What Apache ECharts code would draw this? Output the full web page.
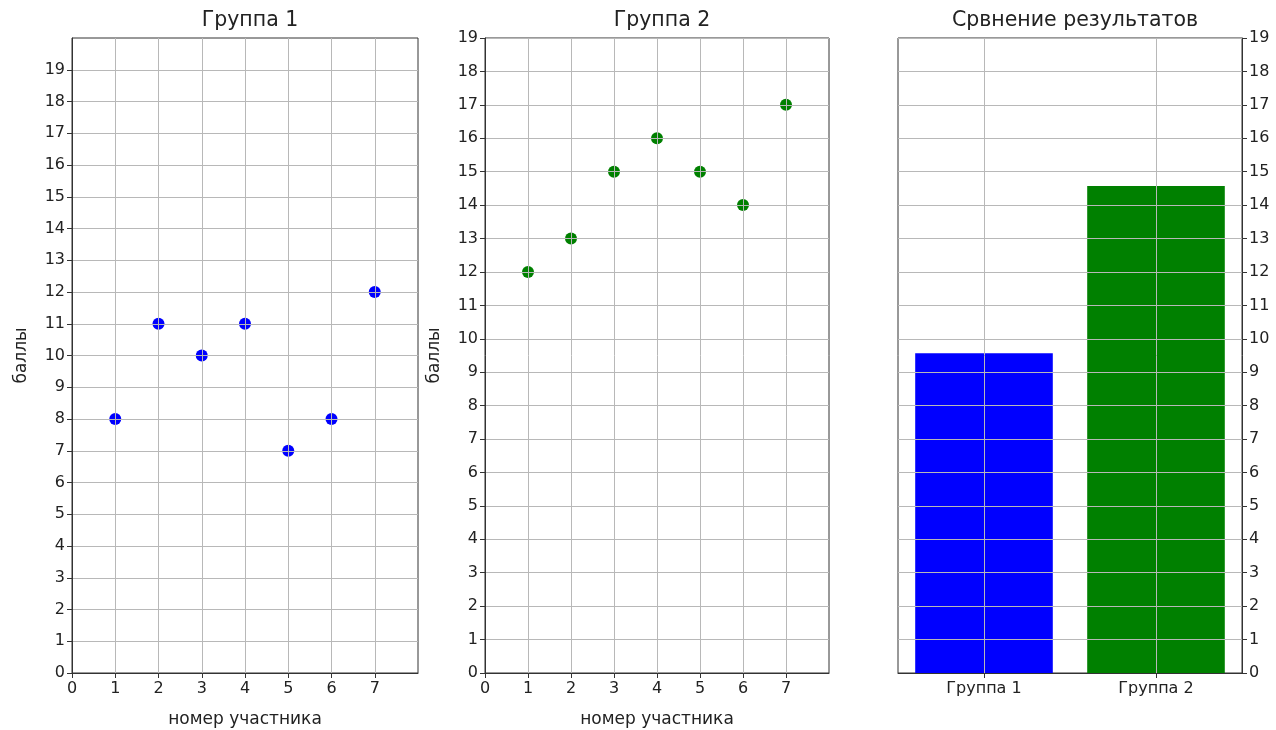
<!DOCTYPE html>
<html>
<head>
<meta charset="utf-8">
<script src="https://cdn.jsdelivr.net/npm/echarts@6/dist/echarts.min.js"></script>
<style>
  html, body { margin: 0; padding: 0; background: #fff; }
  #chart { width: 1276px; height: 730px; }
</style>
</head>
<body>
<div id="chart"></div>
<script>
// ---- data ----
const participants = [1, 2, 3, 4, 5, 6, 7];
const group1Scores = [8, 11, 10, 11, 7, 8, 12];
const group2Scores = [12, 13, 15, 16, 15, 14, 17];
const barCategories = ['Группа 1', 'Группа 2'];
const barMeans = [9.57, 14.57];
const titles = ['Группа 1', 'Группа 2', 'Срвнение результатов'];
const yTickValues = [0,1,2,3,4,5,6,7,8,9,10,11,12,13,14,15,16,17,18,19];
const xTickValues = [0,1,2,3,4,5,6,7];
const xLabelName = 'номер участника';
const yLabelName = 'баллы';

// ---- styles ----
const FONT = 'DejaVu Sans';
const TXT = '#222';
const GRIDC = '#b8b8b8';
const FRAME = '#333';
const tickFont = 16;
const nameFont = 17;

const chart = echarts.init(document.getElementById('chart'), null, { renderer: 'canvas' });

const grids = [
  { left: 72, top: 38, width: 346, height: 635 },
  { left: 485, top: 38, width: 344, height: 635 },
  { left: 898, top: 38, width: 344, height: 635 }
];

function valueX(gi) {
  return {
    type: 'value', gridIndex: gi, min: 0, max: 8, interval: 1, z: 10,
    name: xLabelName, nameLocation: 'middle', nameGap: 38,
    nameTextStyle: { fontFamily: FONT, fontSize: nameFont, color: TXT },
    axisLine: { show: true, onZero: false, lineStyle: { color: FRAME, width: 1 } },
    axisTick: { show: true, length: 5, customValues: xTickValues, lineStyle: { color: FRAME } },
    axisLabel: { customValues: xTickValues, margin: 8, fontFamily: FONT, fontSize: tickFont, color: TXT },
    splitLine: { show: true, lineStyle: { color: GRIDC, width: 1 } }
  };
}
function valueY(gi, max, opts) {
  return Object.assign({
    type: 'value', gridIndex: gi, min: 0, max: max, interval: 1, z: 10,
    axisLine: { show: true, onZero: false, lineStyle: { color: FRAME, width: 1 } },
    axisTick: { show: true, length: 5, customValues: yTickValues, lineStyle: { color: FRAME } },
    axisLabel: { customValues: yTickValues, margin: 7, fontFamily: FONT, fontSize: tickFont, color: TXT },
    splitLine: { show: true, lineStyle: { color: GRIDC, width: 1 } }
  }, opts || {});
}

const option = {
  backgroundColor: '#fff',
  animation: false,
  title: titles.map((t, i) => ({
    text: t,
    left: grids[i].left + grids[i].width / 2,
    top: 5,
    textAlign: 'center',
    textStyle: { fontFamily: FONT, fontSize: 20.5, fontWeight: 'normal', color: TXT }
  })),
  grid: grids.map(g => Object.assign({
    show: true, borderColor: FRAME, borderWidth: 1, backgroundColor: '#fff',
    containLabel: false, outerBoundsMode: 'none'
  }, g)),
  xAxis: [
    valueX(0),
    valueX(1),
    {
      type: 'category', gridIndex: 2, data: barCategories, z: 10,
      axisLine: { show: true, lineStyle: { color: FRAME, width: 1 } },
      axisTick: { show: true, alignWithLabel: true, length: 5, lineStyle: { color: FRAME } },
      axisLabel: { margin: 8, fontFamily: FONT, fontSize: tickFont, color: TXT },
      splitLine: { show: true, alignWithLabel: true, lineStyle: { color: GRIDC, width: 1 } }
    }
  ],
  yAxis: [
    valueY(0, 20, {
      name: yLabelName, nameLocation: 'middle', nameGap: 42, nameRotate: 90,
      nameTextStyle: { fontFamily: FONT, fontSize: nameFont, color: TXT }
    }),
    valueY(1, 19, {
      name: yLabelName, nameLocation: 'middle', nameGap: 42, nameRotate: 90,
      nameTextStyle: { fontFamily: FONT, fontSize: nameFont, color: TXT }
    }),
    valueY(2, 19, { position: 'right' })
  ],
  series: [
    {
      type: 'scatter', xAxisIndex: 0, yAxisIndex: 0, symbol: 'circle', symbolSize: 12,
      itemStyle: { color: '#0000ff', opacity: 1 },
      data: participants.map((p, i) => [p, group1Scores[i]])
    },
    {
      type: 'scatter', xAxisIndex: 1, yAxisIndex: 1, symbol: 'circle', symbolSize: 12,
      itemStyle: { color: '#008000', opacity: 1 },
      data: participants.map((p, i) => [p, group2Scores[i]])
    },
    {
      type: 'bar', xAxisIndex: 2, yAxisIndex: 2, barCategoryGap: '20%',
      data: barMeans.map((v, i) => ({ value: v, itemStyle: { color: i === 0 ? '#0000ff' : '#008000' } }))
    }
  ]
};
chart.setOption(option);
</script>
</body>
</html>
